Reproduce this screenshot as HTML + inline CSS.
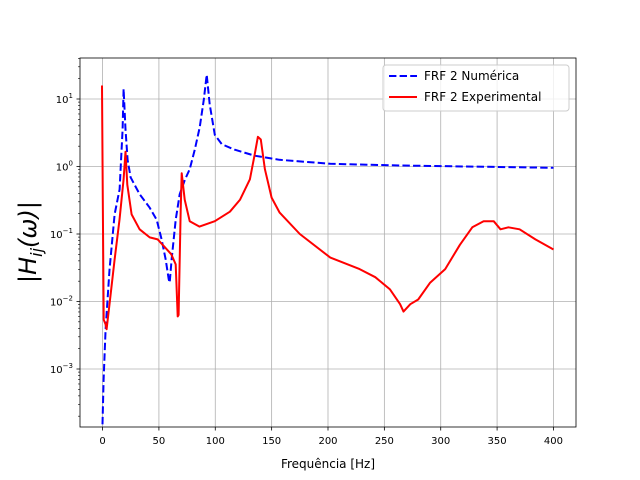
<!DOCTYPE html>
<html><head><meta charset="utf-8"><style>
body{margin:0;background:#fff;font-family:"DejaVu Sans","Liberation Sans",sans-serif}
svg{display:block}
</style></head><body>
<svg id="chart" width="640" height="480" xmlns="http://www.w3.org/2000/svg"></svg>
<script>
const numFreq=[0,0.9,2.7,6.2,10.7,15.1,17.8,18.7,20.4,22.2,24.9,32.9,41.8,48,52.4,56,58.7,59.6,61.3,64.9,68.4,73,77.3,81.8,86.2,89.8,92.4,95.1,99.6,105.8,117,135,157,202,264,400];
const numLog=[-3.82,-3.16,-2.41,-1.53,-0.71,-0.34,0.55,1.15,0.55,0.1,-0.16,-0.41,-0.61,-0.79,-1.08,-1.38,-1.67,-1.72,-1.38,-0.79,-0.41,-0.2,-0.04,0.25,0.58,0.99,1.36,0.92,0.47,0.33,0.25,0.16,0.10,0.04,0.015,-0.02];
const expFreq=[-0.5,0.2,1,2.7,3.6,6.2,10.7,15,18.7,20.4,22,25.8,32.9,41.8,48.9,55,61,64.9,66.7,67.5,69.3,70.2,72.9,77.3,86,99.6,113,122,130.7,135,137.8,140.4,144,150,157,175,202,228,242,255,264,267,273,280,290.7,304,317,328,338,347,353,360,370,384,400];
const expLog=[1.2,-0.5,-2.27,-2.34,-2.41,-2.04,-1.38,-0.79,-0.19,0.22,-0.27,-0.71,-0.93,-1.05,-1.08,-1.19,-1.3,-1.45,-2.22,-2.2,-0.64,-0.1,-0.49,-0.81,-0.89,-0.81,-0.67,-0.49,-0.19,0.18,0.44,0.4,-0.04,-0.46,-0.68,-1.0,-1.35,-1.52,-1.64,-1.82,-2.04,-2.15,-2.04,-1.97,-1.72,-1.52,-1.16,-0.9,-0.81,-0.81,-0.93,-0.9,-0.93,-1.08,-1.23];
const xTicks=[0,50,100,150,200,250,300,350,400];
const yTicks=[1,0,-1,-2,-3];

const L=80,R=576,T=58,B=427;
const xMin=-20,xMax=420,yMax=1+41/67.5,yMin=-3-58/67.5;
const sx=v=>L+(v-xMin)/(xMax-xMin)*(R-L);
const sy=v=>T+(yMax-v)/(yMax-yMin)*(B-T);
const svg=document.getElementById('chart');
const NS='http://www.w3.org/2000/svg';
function mk(tag,attrs,parent){const e=document.createElementNS(NS,tag);for(const k in attrs)e.setAttribute(k,attrs[k]);(parent||svg).appendChild(e);return e;}

xTicks.forEach(t=>{
  const g=mk('line',{x1:sx(t),x2:sx(t),y1:T,y2:B,stroke:'#b0b0b0','stroke-width':0.8});
  
  
  mk('line',{x1:sx(t),x2:sx(t),y1:B,y2:B+3.5,stroke:'#000','stroke-width':0.8});
  const tx=mk('text',{x:sx(t),y:B+17,'text-anchor':'middle','font-size':10,fill:'#000'});
  tx.textContent=t;
  
  
});
yTicks.forEach(t=>{
  const g=mk('line',{x1:L,x2:R,y1:sy(t),y2:sy(t),stroke:'#b0b0b0','stroke-width':0.8});
  
  
  mk('line',{x1:L-3.5,x2:L,y1:sy(t),y2:sy(t),stroke:'#000','stroke-width':0.8});
  const tx=mk('text',{x:L-7,y:sy(t)+4,'text-anchor':'end','font-size':10,fill:'#000'});
  
  
  const a=mk('tspan',{},tx);a.textContent='10';
  const b=mk('tspan',{dy:-5,'font-size':7},tx);b.textContent=String(t).replace('-','−');
  for(let k=2;k<=9;k++){const m=t+Math.log10(k);if(m<yMax&&m>yMin)mk('line',{x1:L-2,x2:L,y1:sy(m),y2:sy(m),stroke:'#000','stroke-width':0.6});}
  for(let k=2;k<=9;k++){const m=t-1+Math.log10(k);if(t==-3&&m>yMin)mk('line',{x1:L-2,x2:L,y1:sy(m),y2:sy(m),stroke:'#000','stroke-width':0.6});}
});
function line(xs,ys,color,dash,name){
  const d=xs.map((x,i)=>(i?'L':'M')+sx(x).toFixed(1)+','+sy(ys[i]).toFixed(1)).join('');
  const p=mk('path',{d:d,fill:'none',stroke:color,'stroke-width':2,'stroke-linejoin':'round'});
  if(dash)p.setAttribute('stroke-dasharray',dash);
  
  
}
const cp=mk('clipPath',{id:'clip'});mk('rect',{x:L,y:T,width:R-L,height:B-T},cp);
line(numFreq,numLog,'#0000ff','7.4,3.2','series-numerica');
line(expFreq,expLog,'#ff0000',null,'series-experimental');
const fr=mk('rect',{x:L,y:T,width:R-L,height:B-T,fill:'none',stroke:'#000','stroke-width':0.8});


const xl=mk('text',{x:(L+R)/2,y:468,'text-anchor':'middle','font-size':12});
xl.textContent='Frequência [Hz]';


const yl=mk('text',{x:0,y:0,'text-anchor':'middle','font-size':24,transform:'translate(36,242) rotate(-90)','font-style':'italic'});


yl.innerHTML='<tspan font-style="normal">|</tspan>H<tspan font-size="16" dy="6">ij</tspan><tspan dy="-6">(ω)</tspan><tspan font-style="normal">|</tspan>';
const lg=mk('g',{});


mk('rect',{x:383,y:65,width:186,height:46,rx:3,fill:'#fff','fill-opacity':0.8,stroke:'#ccc'},lg);
mk('line',{x1:389,x2:417,y1:76,y2:76,stroke:'#0000ff','stroke-width':2,'stroke-dasharray':'7.4,3.2'},lg);
mk('line',{x1:389,x2:417,y1:97,y2:97,stroke:'#ff0000','stroke-width':2},lg);
const l1=mk('text',{x:424,y:80,'font-size':12},lg);l1.textContent='FRF 2 Numérica';


const l2=mk('text',{x:424,y:101,'font-size':12},lg);l2.textContent='FRF 2 Experimental';


</script>
</body></html>
